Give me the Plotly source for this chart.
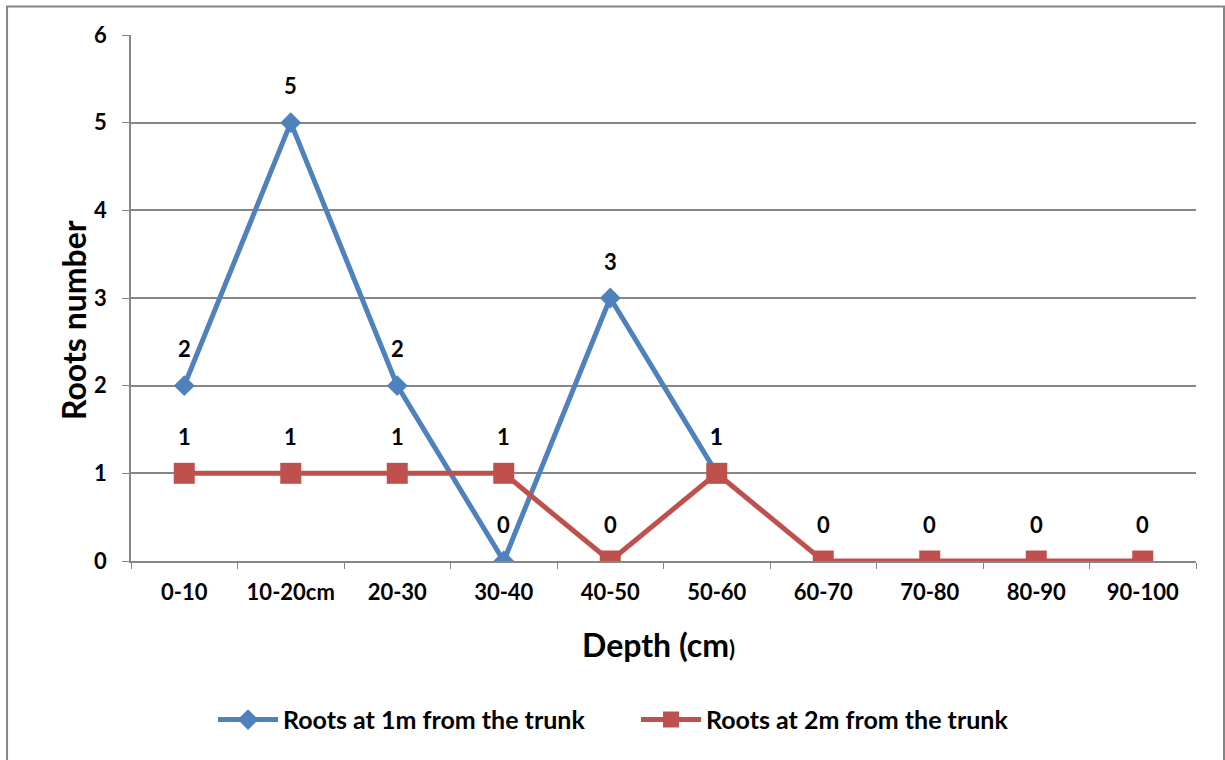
import plotly.graph_objects as go

# Depth classes and root counts for the two sampling distances
depths = ["0-10", "10-20cm", "20-30", "30-40", "40-50", "50-60",
          "60-70", "70-80", "80-90", "90-100"]
roots_1m = [2, 5, 2, 0, 3, 1, None, None, None, None]
roots_2m = [1, 1, 1, 1, 0, 1, 0, 0, 0, 0]
y_ticks = [0, 1, 2, 3, 4, 5, 6]

BLUE = "#4F81BD"
RED = "#C0504D"
GRID = "#868686"
FONT = "Lato"

fig = go.Figure()
fig.add_trace(go.Scatter(
    x=depths, y=roots_1m, mode="lines+markers",
    name="Roots at 1m from the trunk",
    line=dict(color=BLUE, width=5),
    marker=dict(symbol="diamond", size=16, color=BLUE),
    connectgaps=False,
))
fig.add_trace(go.Scatter(
    x=depths, y=roots_2m, mode="lines+markers",
    name="Roots at 2m from the trunk",
    line=dict(color=RED, width=5),
    marker=dict(symbol="square", size=21, color=RED),
))

# Value labels above each point
annotations = []
for series in (roots_1m, roots_2m):
    for cat, val in zip(depths, series):
        if val is None:
            continue
        annotations.append(dict(
            x=cat, y=val, xref="x", yref="y", text=str(val),
            showarrow=False, yshift=37,
            font=dict(family=FONT, size=22, color="black", weight="bold"),
        ))

# Axis titles
annotations.append(dict(
    x=0.4957, y=-0.159, xref="paper", yref="paper",
    text="Depth (cm<span style='font-size:22px'>)</span>",
    showarrow=False, xanchor="center", yanchor="middle",
    font=dict(family=FONT, size=32, color="black", weight="bold"),
))
annotations.append(dict(
    x=-0.0545, y=0.458, xref="paper", yref="paper",
    text="Roots number", textangle=-90,
    showarrow=False, xanchor="center", yanchor="middle",
    font=dict(family=FONT, size=32, color="black", weight="bold"),
))

fig.update_layout(
    width=1225, height=760,
    margin=dict(l=131, r=29, t=35, b=199),
    paper_bgcolor="white", plot_bgcolor="white",
    font=dict(family=FONT, color="black"),
    showlegend=True,
    legend=dict(
        orientation="h", x=0.4742, y=-0.302,
        xanchor="center", yanchor="middle",
        font=dict(family=FONT, size=25, color="black", weight="bold"),
        itemwidth=60, entrywidth=348,
    ),
    annotations=annotations,
    shapes=[dict(
        type="rect", xref="paper", yref="paper",
        x0=-0.1164, x1=1.0263, y0=-0.40, y1=1.0542,
        line=dict(color=GRID, width=2), fillcolor="rgba(0,0,0,0)",
        layer="below",
    )],
)

fig.update_xaxes(
    type="category", range=[-0.5, 9.5],
    showline=True, linecolor=GRID, linewidth=1.5,
    ticks="outside", tickson="boundaries", ticklen=6, tickcolor=GRID,
    showgrid=False, ticklabelstandoff=11,
    tickfont=dict(family=FONT, size=22, color="black", weight="bold"),
)
fig.update_yaxes(
    range=[0, 6], tickvals=y_ticks, ticktext=[str(v) for v in y_ticks],
    showline=True, linecolor=GRID, linewidth=1.5,
    ticks="outside", ticklen=7, tickcolor=GRID,
    showgrid=True, gridcolor=GRID, gridwidth=1.5,
    zeroline=False, ticklabelstandoff=11,
    tickfont=dict(family=FONT, size=22, color="black", weight="bold"),
)

fig.write_html("out.html")
